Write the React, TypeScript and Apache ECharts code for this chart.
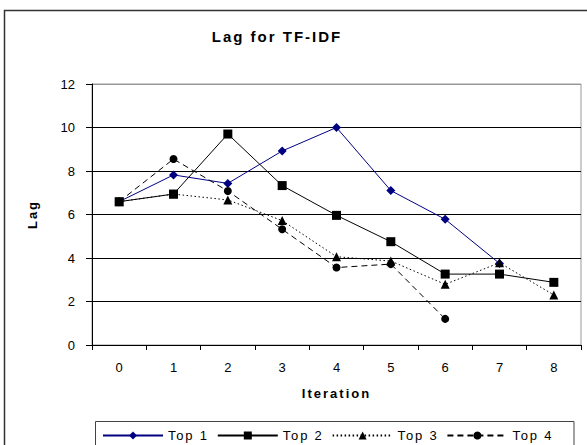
import React, { useEffect, useRef } from "react";
import * as echarts from "echarts";

const categories = ["0", "1", "2", "3", "4", "5", "6", "7", "8"];
const seriesNames = ["Top 1", "Top 2", "Top 3", "Top 4"];
const top1 = [6.59, 7.82, 7.43, 8.92, 10.0, 7.1, 5.78, 3.75, null];
const top2 = [6.59, 6.94, 9.7, 7.33, 5.96, 4.75, 3.26, 3.26, 2.88];
const top3 = [6.59, 6.94, 6.67, 5.72, 4.06, 3.86, 2.79, 3.78, 2.3];
const top4 = [6.59, 8.55, 7.08, 5.32, 3.56, 3.72, 1.2, null, null];
const yMin = 0;
const yMax = 12;
const yStep = 2;

const FONT = "'Liberation Sans', Arial, sans-serif";
const LEGEND_FONT = "'Liberation Sans', Helvetica, sans-serif";

export default function App() {
  const ref = useRef<HTMLDivElement>(null);
  useEffect(() => {
    if (!ref.current) return;
    const chart = echarts.init(ref.current, null, { renderer: "svg" });
    const common = {
      type: "line",
      connectNulls: false,
      showSymbol: true,
    };
    chart.setOption({
      animation: false,
      backgroundColor: "#fff",
      textStyle: { fontFamily: FONT, color: "#000" },
      title: {
        text: "Lag for TF-IDF",
        left: 272,
        textAlign: "center",
        top: 24,
        textStyle: { fontFamily: FONT, fontSize: 15, fontWeight: "bold", color: "#000" },
      },
      graphic: [
        {
          type: "rect",
          silent: true,
          z: -1,
          shape: { x: 4.5, y: 10.5, width: 700, height: 500 },
          style: { fill: "none", stroke: "#333", lineWidth: 1.5 },
        },
        {
          type: "rect",
          silent: true,
          z: -1,
          shape: { x: 95.5, y: 421.5, width: 478.5, height: 40 },
          style: { fill: "#fff", stroke: "#444", lineWidth: 1 },
        },
      ],
      legend: {
        data: seriesNames,
        left: 102,
        top: 429,
        padding: 0,
        itemWidth: 60,
        itemHeight: 10,
        itemGap: 17,
        textStyle: { fontFamily: LEGEND_FONT, fontSize: 13, color: "#000" },
      },
      grid: { left: 92, right: 6, top: 84, bottom: 100, show: true, borderColor: "#999", borderWidth: 1 },
      xAxis: {
        type: "category",
        data: categories,
        boundaryGap: true,
        name: "Iteration",
        nameLocation: "middle",
        nameGap: 42,
        nameTextStyle: { fontFamily: FONT, fontSize: 13, fontWeight: "bold", color: "#000" },
        axisLine: { lineStyle: { color: "#000", width: 1 } },
        axisTick: { show: true, inside: false, length: 5, alignWithLabel: false, lineStyle: { color: "#000" } },
        axisLabel: { fontFamily: FONT, fontSize: 13, color: "#000", margin: 16 },
        splitLine: { show: false },
      },
      yAxis: {
        type: "value",
        min: yMin,
        max: yMax,
        interval: yStep,
        name: "Lag",
        nameLocation: "middle",
        nameRotate: 90,
        nameGap: 53,
        nameTextStyle: { fontFamily: FONT, fontSize: 13, fontWeight: "bold", color: "#000" },
        axisLine: { show: true, lineStyle: { color: "#000", width: 1 } },
        axisTick: { show: true, inside: false, length: 6, lineStyle: { color: "#000" } },
        axisLabel: { fontFamily: FONT, fontSize: 13, color: "#000", margin: 17 },
        splitLine: {
          show: true,
          lineStyle: { color: ["#000", "#000", "#000", "#000", "#000", "#000", "#999"], width: 1 },
        },
      },
      series: [
        {
          ...common,
          name: seriesNames[0],
          data: top1,
          z: 2,
          symbol: "diamond",
          symbolSize: 9,
          itemStyle: { color: "#000080" },
          lineStyle: { color: "#000080", width: 1, type: "solid" },
        },
        {
          ...common,
          name: seriesNames[1],
          data: top2,
          z: 5,
          symbol: "rect",
          symbolSize: 9,
          itemStyle: { color: "#000" },
          lineStyle: { color: "#000", width: 1, type: "solid" },
        },
        {
          ...common,
          name: seriesNames[2],
          data: top3,
          z: 3,
          symbol: "triangle",
          symbolSize: 9,
          itemStyle: { color: "#000" },
          lineStyle: { color: "#000", width: 1, type: [1.5, 2.5] },
        },
        {
          ...common,
          name: seriesNames[3],
          data: top4,
          z: 4,
          symbol: "circle",
          symbolSize: 8,
          itemStyle: { color: "#000" },
          lineStyle: { color: "#000", width: 1, type: [6, 4] },
        },
      ],
    });
    return () => chart.dispose();
  }, []);
  return (
    <>
      <style>{`
        .lagchart text[style*="bold"] { letter-spacing: 2px; }
        .lagchart text[style*="Helvetica"] { letter-spacing: 1.8px; }
      `}</style>
      <div
        ref={ref}
        className="lagchart"
        style={{ position: "absolute", left: 0, top: 0, width: 587, height: 445 }}
      />
    </>
  );
}
